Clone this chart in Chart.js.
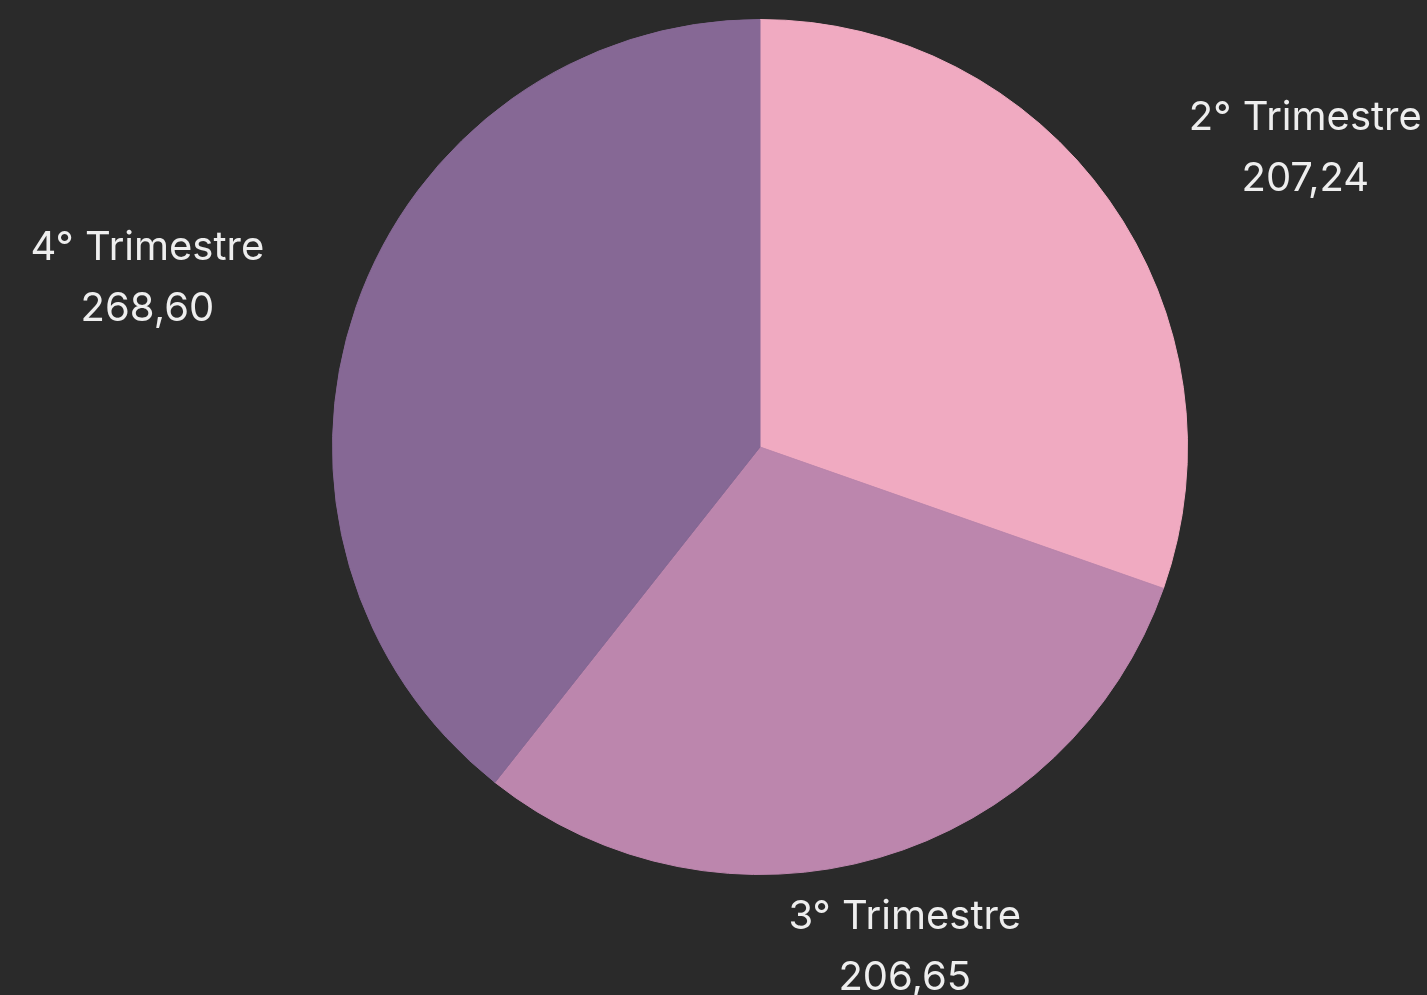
<!DOCTYPE html>
<html>
<head>
<meta charset="utf-8">
<script src="https://cdn.jsdelivr.net/npm/chart.js@4"></script>
<style>
  html, body { margin: 0; padding: 0; background: #2a2a2a; }
  #wrap { width: 1427px; height: 995px; }
</style>
</head>
<body>
<div id="wrap"><canvas id="pie"></canvas></div>
<script>
const labels = ['2° Trimestre', '3° Trimestre', '4° Trimestre'];
const values = [207.24, 206.65, 268.60];
const colors = ['#f0aac1', '#bc86ad', '#866895'];

function fmt(v) {
  return v.toFixed(2).replace('.', ',');
}

// draws "name / value" outside each slice
const outerLabels = {
  id: 'outerLabels',
  afterDraw(chart) {
    const ctx = chart.ctx;
    const arcs = chart.getDatasetMeta(0).data;
    ctx.save();
    ctx.font = '40px Inter';
    ctx.fillStyle = '#eeeeee';
    ctx.textBaseline = 'middle';
    arcs.forEach((arc, i) => {
      const mid = (arc.startAngle + arc.endAngle) / 2;
      const R = arc.outerRadius + 92;
      const px = arc.x + Math.cos(mid) * R;
      const py = arc.y + Math.sin(mid) * R;
      const lines = [labels[i], fmt(values[i])];
      const w = Math.max(...lines.map(l => ctx.measureText(l).width));
      let cx = px;
      if (Math.cos(mid) > 0.5) cx = px + 5 + w / 2;
      else if (Math.cos(mid) < -0.5) cx = px - 5 - w / 2;
      ctx.textAlign = 'center';
      ctx.fillText(lines[0], cx, py - 29);
      ctx.fillText(lines[1], cx, py + 32);
    });
    ctx.restore();
  }
};

new Chart(document.getElementById('pie'), {
  type: 'pie',
  data: {
    labels,
    datasets: [{ data: values, backgroundColor: colors, borderColor: colors, borderWidth: 1 }]
  },
  options: {
    responsive: true,
    maintainAspectRatio: false,
    animation: false,
    layout: { padding: { top: 19, bottom: 120, left: 332, right: 239 } },
    plugins: { legend: { display: false }, tooltip: { enabled: false } }
  },
  plugins: [outerLabels]
});
</script>
</body>
</html>
